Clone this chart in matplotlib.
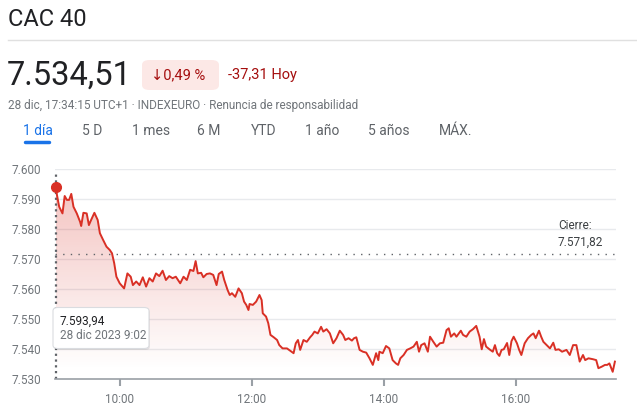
import numpy as np
import matplotlib
matplotlib.use("Agg")
import matplotlib.pyplot as plt
from matplotlib.patches import FancyBboxPatch
from matplotlib.lines import Line2D

plt.rcParams['font.family'] = ['Roboto', 'DejaVu Sans']

# minutes after 9:00 and index level
minutes = [2, 3, 5, 8, 10, 12, 14, 16, 18, 21, 24, 25, 27, 30, 32, 34, 37, 40, 42, 45,
           48, 51, 53, 55, 57, 60, 64, 67, 70, 72, 75, 78, 81, 84, 87, 90, 93, 96, 99, 102,
           105, 108, 111, 115, 118, 121, 124, 127, 129, 131, 134, 136, 139, 142, 145, 148, 150, 153, 155, 158,
           160, 162, 165, 168, 171, 173, 175, 177, 178, 181, 184, 187, 189, 190, 193, 195, 197, 200, 203, 205,
           208, 212, 215, 218, 220, 222, 224, 227, 230, 233, 235, 237, 240, 243, 245, 248, 251, 254, 257, 260,
           263, 265, 268, 271, 273, 275, 278, 281, 284, 287, 290, 293, 295, 296, 299, 302, 305, 308, 311, 313,
           315, 318, 321, 324, 327, 330, 332, 334, 337, 340, 342, 345, 348, 351, 354, 357, 359, 361, 364, 366,
           370, 372, 375, 378, 381, 384, 387, 389, 391, 393, 396, 399, 401, 403, 405, 407, 409, 412, 414, 416,
           418, 421, 423, 425, 428, 431, 434, 436, 438, 441, 443, 445, 448, 451, 454, 456, 459, 462, 466, 469,
           472, 475, 478, 481, 483, 486, 490, 493, 495, 498, 501, 503, 505, 508, 510]
values = [7593.9, 7591.3, 7587.4, 7585.2, 7591.0, 7589.7, 7589.7, 7591.7, 7587.4, 7585.2, 7582.4, 7581.0, 7585.4, 7585.2, 7581.3, 7583.0, 7585.4, 7583.0, 7578.6, 7576.3,
          7574.1, 7573.0, 7571.9, 7568.6, 7564.1, 7561.9, 7560.2, 7565.2, 7564.1, 7561.3, 7562.5, 7561.3, 7563.9, 7560.8, 7563.6, 7562.5, 7565.2, 7564.3, 7566.1, 7563.0,
          7564.3, 7563.6, 7564.1, 7561.9, 7564.1, 7563.0, 7566.4, 7566.0, 7569.3, 7565.2, 7565.4, 7563.9, 7565.0, 7565.2, 7564.7, 7561.3, 7565.0, 7565.8, 7563.0, 7559.7,
          7558.0, 7558.6, 7557.4, 7560.2, 7558.6, 7555.8, 7554.7, 7553.0, 7555.0, 7554.7, 7555.8, 7558.0, 7556.3, 7551.9, 7550.8, 7548.6, 7544.7, 7543.9, 7543.0, 7541.3,
          7540.2, 7540.2, 7539.4, 7538.6, 7541.9, 7543.0, 7539.7, 7543.0, 7542.4, 7543.9, 7544.7, 7545.8, 7545.2, 7547.4, 7545.8, 7546.6, 7545.2, 7541.9, 7543.6, 7546.1,
          7544.7, 7543.0, 7543.6, 7542.8, 7543.6, 7543.9, 7539.7, 7539.1, 7538.8, 7536.9, 7534.7, 7538.6, 7536.3, 7539.1, 7538.6, 7541.0, 7540.2, 7536.3, 7535.2, 7534.7,
          7536.9, 7538.0, 7539.7, 7540.2, 7540.8, 7542.4, 7539.1, 7541.3, 7541.9, 7539.1, 7544.1, 7542.4, 7540.8, 7541.9, 7542.1, 7546.3, 7546.9, 7544.1, 7545.2, 7544.1,
          7546.1, 7544.7, 7544.1, 7545.8, 7546.6, 7547.7, 7544.1, 7539.9, 7543.3, 7540.8, 7539.9, 7539.1, 7541.3, 7538.6, 7537.7, 7539.7, 7539.9, 7542.0, 7538.0, 7542.6,
          7544.1, 7541.9, 7539.7, 7538.0, 7541.9, 7543.6, 7544.7, 7545.2, 7543.6, 7546.1, 7544.1, 7542.4, 7541.3, 7540.2, 7542.1, 7539.7, 7539.9, 7539.1, 7539.7, 7538.0,
          7541.3, 7541.3, 7535.8, 7538.0, 7536.3, 7536.9, 7536.6, 7536.3, 7533.6, 7534.1, 7534.7, 7534.7, 7535.2, 7532.4, 7535.8]

prev_close = 7571.82
y_ticks = [7530, 7540, 7550, 7560, 7570, 7580, 7590, 7600]
y_labels = ["7.530", "7.540", "7.550", "7.560", "7.570", "7.580", "7.590", "7.600"]
x_ticks = [10, 12, 14, 16]
x_labels = ["10:00", "12:00", "14:00", "16:00"]
tabs = ["1 día", "5 D", "1 mes", "6 M", "YTD", "1 año", "5 años", "MÁX."]
tab_x = [23, 82, 132, 197, 251, 305, 368, 439]

W, H = 637, 411
RED = "#d93025"
GREY = "#70757a"

def fx(x):
    return x / W

def fy(y):
    return 1 - y / H

fig = plt.figure(figsize=(W / 100, H / 100), dpi=100)
fig.patch.set_facecolor("white")

# ---- header ----
fig.text(fx(8), fy(19), "CAC 40", fontsize=17, color="#202124", va="center")
fig.add_artist(Line2D([fx(8), 1], [fy(40.5), fy(40.5)], color="#e0e0e0", lw=1))
fig.text(fx(7), fy(76), "7.534,51", fontsize=23.5, color="#202124", va="center")
fig.add_artist(FancyBboxPatch((fx(142), fy(90)), fx(77), 30 / H,
                              boxstyle="round,pad=0,rounding_size=0.012",
                              transform=fig.transFigure, fc="#fce8e6", ec="none"))
fig.text(fx(151), fy(75), "↓0,49 %", fontsize=10.5, color="#a50e0e", va="center")
fig.text(fx(228), fy(75), "-37,31 Hoy", fontsize=10.5, color="#a50e0e", va="center")
fig.text(fx(8), fy(105), "28 dic, 17:34:15 UTC+1 · INDEXEURO · Renuncia de responsabilidad",
         fontsize=8.5, color=GREY, va="center")
for t, x in zip(tabs, tab_x):
    c = "#1a73e8" if t == "1 día" else "#5f6368"
    fig.text(fx(x), fy(131), t, fontsize=10, color=c, va="center")
fig.add_artist(Line2D([fx(25), fx(49)], [fy(142), fy(142)], color="#1a73e8", lw=2.5,
                      solid_capstyle="round"))

# ---- chart ----
ax = fig.add_axes([fx(55), fy(379), fx(616) - fx(55), (379 - 169) / H])
hours = 9 + np.array(minutes) / 60
vals = np.array(values)

ax.set_xlim(9 + 1.2 / 60, 9 + 511 / 60)
ax.set_ylim(7530, 7600)

for yv in y_ticks[1:]:
    ax.axhline(yv, color="#e8eaed", lw=1, zorder=0)

# gradient fill under the line
poly = ax.fill_between(hours, vals, 7530, color="none")
grad = np.linspace(0, 1, 256).reshape(-1, 1)
rgba = np.zeros((256, 1, 4))
rgba[..., 0] = 0.85
rgba[..., 1] = 0.19
rgba[..., 2] = 0.15
rgba[..., 3] = np.clip((grad[:, 0] * 70 - 3) / 64, 0, 1)[:, None] * 0.3
img = ax.imshow(rgba, extent=[hours[0], hours[-1], 7530, 7600], origin="lower",
                aspect="auto", zorder=1)
img.set_clip_path(poly.get_paths()[0], transform=ax.transData)

ax.plot(hours, vals, color=RED, lw=1.4, zorder=3)

ax.axhline(prev_close, color="#5f6368", lw=1, ls=(0, (1, 4.5)), zorder=2)
ax.plot([hours[0], hours[0]], [7530, 7599], color="#5f6368", lw=1.6,
        ls=(0, (1, 1.6)), zorder=2, clip_on=False)
ax.plot(hours[0], vals[0], "o", color=RED, ms=7, zorder=5, clip_on=False)

ax.set_yticks(y_ticks)
ax.set_yticklabels(y_labels)
ax.set_xticks(x_ticks)
ax.set_xticklabels(x_labels)
ax.tick_params(axis="y", length=0, pad=10, labelsize=8.5, labelcolor=GREY)
ax.tick_params(axis="x", length=5, width=1.5, color="#9aa0a6", pad=5,
               labelsize=8.5, labelcolor=GREY)
for s in ["top", "right", "left"]:
    ax.spines[s].set_visible(False)
ax.spines["bottom"].set_color("#9aa0a6")
ax.spines["bottom"].set_linewidth(1.2)

ax.text((558 - 55) / (616 - 55), prev_close + 1.6, "Cierre:\n7.571,82",
        transform=ax.get_yaxis_transform(), fontsize=8.5, color="#3c4043",
        va="bottom", ha="left", linespacing=1.35)

# ---- tooltip ----
fig.add_artist(FancyBboxPatch((fx(54), fy(350)), fx(96), 41 / H,
                              boxstyle="round,pad=0,rounding_size=0.008",
                              transform=fig.transFigure, fc="#000000", ec="none",
                              alpha=0.08, zorder=6))
fig.add_artist(FancyBboxPatch((fx(53), fy(348.5)), fx(96), 41 / H,
                              boxstyle="round,pad=0,rounding_size=0.008",
                              transform=fig.transFigure, fc="white", ec="#dadce0",
                              lw=0.8, zorder=7))
fig.text(fx(60), fy(321), "7.593,94", fontsize=8.5, color="#202124", va="center", zorder=8)
fig.text(fx(60), fy(335.5), "28 dic 2023 9:02", fontsize=8.5, color=GREY, va="center", zorder=8)

fig.savefig("out.png", dpi=100)
